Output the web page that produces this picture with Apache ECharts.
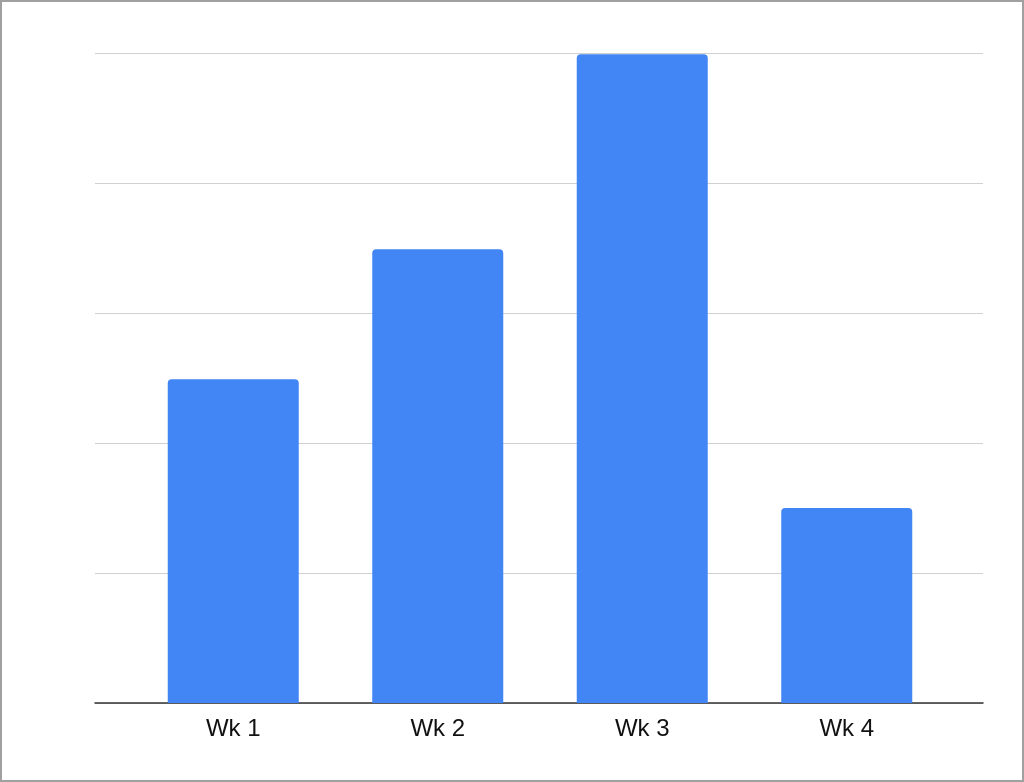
<!DOCTYPE html>
<html>
<head>
<meta charset="utf-8">
<script src="https://cdn.jsdelivr.net/npm/echarts@6/dist/echarts.min.js"></script>
<style>
html,body{margin:0;padding:0;background:#fff;}
#frame{width:1024px;height:782px;box-sizing:border-box;border:2px solid #a0a0a0;position:relative;}
#chart{position:absolute;left:-2px;top:-2px;width:1024px;height:782px;}
</style>
</head>
<body>
<div id="frame"><div id="chart"></div></div>
<script>
const categories = ['Wk 1', 'Wk 2', 'Wk 3', 'Wk 4'];
const values = [2.49, 3.49, 4.99, 1.5];
const yMin = 0, yMax = 5, yInterval = 1;

const chart = echarts.init(document.getElementById('chart'), null, {renderer: 'canvas'});
chart.setOption({
  animation: false,
  grid: [
    {left: 95, right: 41, top: 53, bottom: 79},
    {left: 131, right: 75, top: 53, bottom: 79}
  ],
  xAxis: [
    {type: 'category', gridIndex: 0, data: categories, axisLabel: {show: false}, axisTick: {show: false},
     axisLine: {show: true, lineStyle: {color: '#333', width: 1.5}}, splitLine: {show: false}},
    {type: 'category', gridIndex: 1, data: categories, axisTick: {show: false}, axisLine: {show: false},
     axisLabel: {color: '#111', fontFamily: 'Liberation Sans, Arial, sans-serif', fontSize: 24, margin: 14}}
  ],
  yAxis: [
    {type: 'value', gridIndex: 0, min: yMin, max: yMax, interval: yInterval, axisLabel: {show: false},
     axisLine: {show: false}, axisTick: {show: false}, splitLine: {lineStyle: {color: '#d0d0d0', width: 1}}},
    {type: 'value', gridIndex: 1, min: yMin, max: yMax, interval: yInterval, axisLabel: {show: false},
     axisLine: {show: false}, axisTick: {show: false}, splitLine: {show: false}}
  ],
  series: [{
    type: 'bar', xAxisIndex: 1, yAxisIndex: 1, data: values, barWidth: 131,
    itemStyle: {color: '#4285f4', borderRadius: [4, 4, 0, 0]}, z: 1
  }]
});
</script>
</body>
</html>
